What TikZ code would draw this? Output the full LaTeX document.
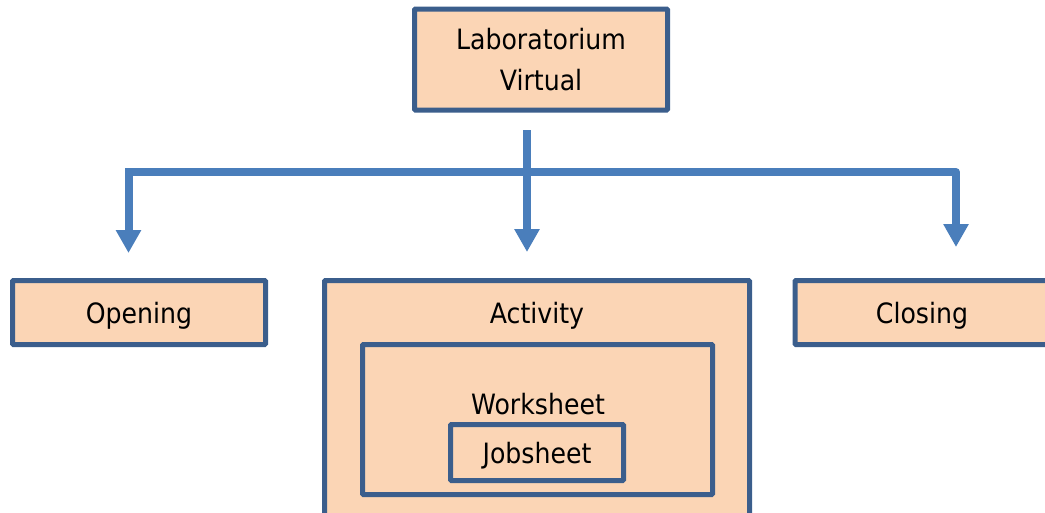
\documentclass[tikz,border=0pt]{standalone}
\usepackage{fontspec}
\setmainfont{DejaVu Sans}[FakeStretch=0.9]
\usetikzlibrary{arrows.meta}
\definecolor{boxfill}{HTML}{FBD5B5}
\definecolor{boxline}{HTML}{3B5E8C}
\definecolor{barblue}{HTML}{4A7EBB}
\tikzset{
  block/.style={draw=boxline, fill=boxfill, line width=5pt, rounded corners=1pt,
    inner sep=0pt, align=center, font=\fontsize{28}{40.5}\selectfont},
  flat/.style={text depth=0pt},
  label text/.style={inner sep=0pt, text depth=0pt, font=\fontsize{28}{40.5}\selectfont},
  bar/.style={draw=barblue, line width=8pt, line join=miter},
  barhead/.style={bar, -{Triangle[width=24pt,length=23pt]}},
}
\begin{document}
\begin{tikzpicture}[x=1pt,y=1pt]
\useasboundingbox (0,0) rectangle (1045,-512);
\begin{scope}
\clip (0,0) rectangle (1045,-512);

% top box
\node[block, minimum width=253pt, minimum height=101pt] (lab) at (541,-59.5)
  {Laboratorium\\Virtual};

% second-level boxes
\node[block, flat, minimum width=253pt, minimum height=64pt] (open) at (139,-312.5) {Opening};
\node[block, minimum width=425pt, minimum height=250pt] (act) at (537,-405.5) {};
\node[label text] (acttext) at (537,-312.5) {Activity};
\node[block, flat, minimum width=254pt, minimum height=64pt] (close) at (922,-312.5) {Closing};

% nested boxes inside Activity
\node[block, minimum width=350pt, minimum height=150pt] (work) at (537.5,-419.5) {};
\node[label text] (worktext) at (538,-404) {Worksheet};
\node[block, flat, minimum width=173pt, minimum height=56pt] (job) at (537,-452.5) {Jobsheet};

% connector skeleton
\coordinate (stemtop) at (527,-130);
\coordinate (hub) at (527,-172);
\coordinate (lcorner) at (128.5,-172);
\coordinate (rcorner) at (956,-172);
\coordinate (ltip) at (128.5,-253);
\coordinate (mtip) at (527,-252);
\coordinate (rtip) at (956,-247);

\draw[bar] (stemtop) -- (hub);
\draw[barhead] (hub) -- (mtip);
\draw[barhead] (hub) -- (lcorner) -- (ltip);
\draw[barhead, line join=round] (hub) -- (rcorner) -- (rtip);
\end{scope}
\end{tikzpicture}
\end{document}
